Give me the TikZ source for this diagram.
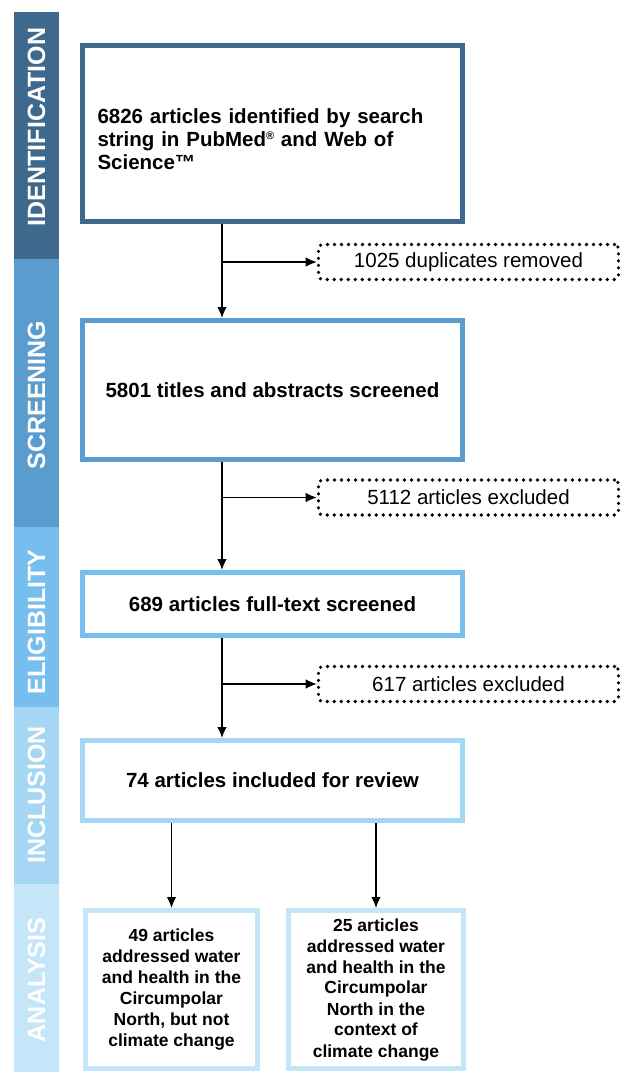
\documentclass[tikz,border=0pt]{standalone}
\usepackage{fontspec}
\setmainfont{Liberation Sans}
\usetikzlibrary{arrows.meta}
\definecolor{idblue}{RGB}{62,104,140}
\definecolor{scrblue}{RGB}{91,156,206}
\definecolor{eliblue}{RGB}{118,190,238}
\definecolor{incblue}{RGB}{165,215,245}
\definecolor{anablue}{RGB}{197,230,248}
\begin{document}
\begin{tikzpicture}[x=1pt, y=-1pt, >={Latex[length=11pt,width=9.5pt]}, line width=1.2pt,
    bandtext/.style={rotate=90, text=white, font=\fontsize{25}{30}\selectfont\bfseries},
    stage/.style={draw=#1, line width=5pt, inner sep=0pt, align=center, font=\fontsize{20.5}{22.7}\selectfont\bfseries},
    result/.style={stage=anablue, minimum width=172pt, minimum height=158pt, font=\fontsize{17.5}{21}\selectfont\bfseries},
    excl/.style={draw, dash pattern=on 0pt off 7pt, line cap=round, line width=3.6pt, rounded corners=4pt, minimum width=300pt, minimum height=35pt, font=\fontsize{20.5}{24}\selectfont}]
    \useasboundingbox (0,0) rectangle (625,1072);
    \fill[idblue] (14,12) rectangle (59,259);
    \fill[scrblue] (14,259) rectangle (59,527);
    \fill[eliblue] (14,527) rectangle (59,707);
    \fill[incblue] (14,707) rectangle (59,884);
    \fill[anablue] (14,884) rectangle (59,1072);
    \node[bandtext] (idlab) at (36.5,127) {IDENTIFICATION};
    \node[bandtext] (scrlab) at (36.5,395) {SCREENING};
    \node[bandtext] (elilab) at (36.5,622) {ELIGIBILITY};
    \node[bandtext] (inclab) at (36.5,795) {INCLUSION};
    \node[bandtext] (analab) at (36.5,980) {ANALYSIS};

    \node[stage=idblue, minimum width=380pt, minimum height=176pt] (ident) at (272.5,133.5) {};
    \node[stage=idblue, draw=none, align=left, text width=350pt] (idtext) at (272.5,139)
      {6826 articles identified by search\\string in PubMed{\fontsize{11}{11}\selectfont\raisebox{7pt}{\textregistered}} and Web of\\Science™};
    \node[stage=scrblue, minimum width=380pt, minimum height=139pt] (screen) at (272.5,390) {5801 titles and abstracts screened};
    \node[stage=eliblue, minimum width=380pt, minimum height=63pt] (elig) at (272.5,604) {689 articles full-text screened};
    \node[stage=incblue, minimum width=380pt, minimum height=80pt] (incl) at (272.5,780.5) {74 articles included for review};
    \node[result] (res1) at (171.5,989.5) {49 articles\\addressed water\\and health in the\\Circumpolar\\North, but not\\climate change};
    \node[result, minimum width=175pt] (res2) at (376,989.5) {25 articles\\addressed water\\and health in the\\Circumpolar\\North in the\\context of\\climate change};

    \node[excl] (dup) at (468.5,262) {1025 duplicates removed};
    \node[excl] (exc1) at (468.5,497.5) {5112 articles excluded};
    \node[excl] (exc2) at (468.5,684) {617 articles excluded};

    \coordinate (spine) at (222,0);
    \draw[->] (ident.south -| spine) -- (screen.north -| spine);
    \draw[->] (screen.south -| spine) -- (elig.north -| spine);
    \draw[->] (elig.south -| spine) -- (incl.north -| spine);
    \draw[->] (dup.west -| spine) -- (dup.west);
    \draw[->] (exc1.west -| spine) -- (exc1.west);
    \draw[->] (exc2.west -| spine) -- (exc2.west);
    \draw[->] (incl.south -| res1.north) -- (res1.north);
    \draw[->] (incl.south -| res2.north) -- (res2.north);
\end{tikzpicture}
\end{document}
